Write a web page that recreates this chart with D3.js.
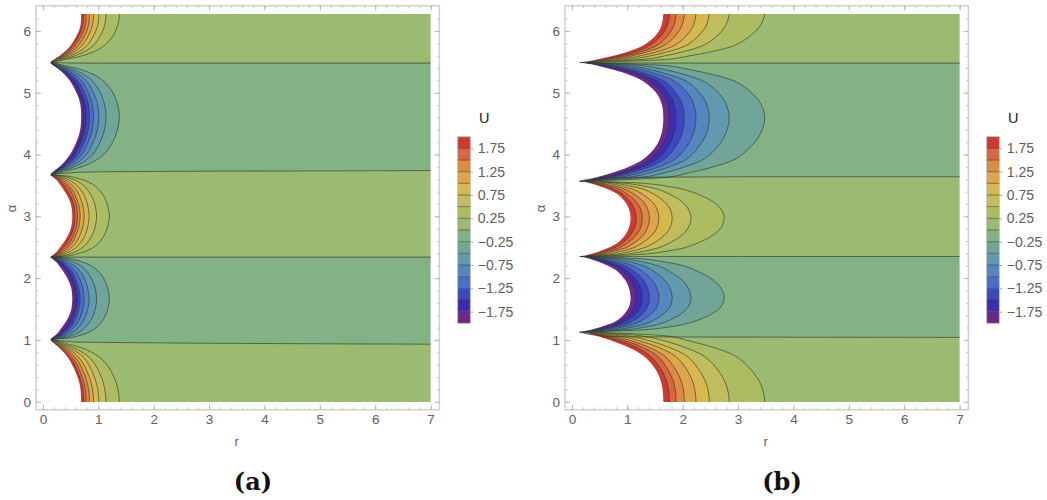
<!DOCTYPE html>
<html>
<head>
<meta charset="utf-8">
<script src="https://cdn.jsdelivr.net/npm/d3@7"></script>
<style>
  body { margin: 0; background: #fff; }
  text { font-family: "Liberation Sans", sans-serif; }
</style>
</head>
<body>
<div id="chart"></div>
<script>
// Contour levels of U (the 2.0 contour is the edge of the plotted domain)
const levels = [0.25, 0.5, 0.75, 1, 1.25, 1.5, 1.75, 2];
const bandEdges = [-2, -1.75, -1.5, -1.25, -1, -0.75, -0.5, -0.25, 0, 0.25, 0.5, 0.75, 1, 1.25, 1.5, 1.75, 2];
const legendTicks = [1.75, 1.25, 0.75, 0.25, -0.25, -0.75, -1.25, -1.75];
const rTicks = [0, 1, 2, 3, 4, 5, 6, 7];
const alphaTicks = [0, 1, 2, 3, 4, 5, 6];
const alphaMax = 6.28;

// Fraction of a lobe's half height (0 = lobe middle, 1 = cusp) at which r was read
const lobeFractions = [0, 0.25, 0.45, 0.65, 0.78, 0.87, 0.93, 0.97, 1];

// r of each contour at those fractions, one row per level
const bigLobeA = [
  [1.38, 1.34, 1.255, 1.10, 0.905, 0.675, 0.43, 0.28, 0.12],
  [1.14, 1.105, 1.03, 0.90, 0.735, 0.545, 0.35, 0.25, 0.12],
  [1.01, 0.98, 0.905, 0.79, 0.64, 0.47, 0.31, 0.23, 0.12],
  [0.914, 0.885, 0.815, 0.70, 0.565, 0.415, 0.285, 0.21, 0.12],
  [0.84, 0.815, 0.745, 0.635, 0.51, 0.375, 0.26, 0.195, 0.12],
  [0.78, 0.757, 0.685, 0.58, 0.465, 0.34, 0.24, 0.18, 0.12],
  [0.733, 0.71, 0.64, 0.535, 0.42, 0.315, 0.225, 0.165, 0.12],
  [0.69, 0.67, 0.60, 0.493, 0.386, 0.29, 0.207, 0.152, 0.12]
];
const smallLobeA = [
  [1.2, 1.17, 1.115, 1.01, 0.89, 0.745, 0.60, 0.455, 0.12],
  [0.97, 0.945, 0.895, 0.80, 0.70, 0.585, 0.47, 0.36, 0.12],
  [0.836, 0.81, 0.765, 0.68, 0.585, 0.485, 0.39, 0.30, 0.12],
  [0.745, 0.722, 0.675, 0.595, 0.505, 0.42, 0.335, 0.26, 0.12],
  [0.673, 0.65, 0.60, 0.53, 0.445, 0.37, 0.295, 0.23, 0.12],
  [0.625, 0.606, 0.555, 0.485, 0.40, 0.33, 0.265, 0.21, 0.12],
  [0.578, 0.56, 0.51, 0.43, 0.355, 0.295, 0.235, 0.185, 0.12],
  [0.53, 0.513, 0.46, 0.37, 0.30, 0.25, 0.195, 0.16, 0.12]
];
const bigLobeB = [
  [3.48, 3.41, 3.24, 2.96, 2.54, 2.12, 1.81, 1.15, 0.12],
  [2.84, 2.78, 2.64, 2.39, 2.03, 1.67, 1.36, 0.88, 0.12],
  [2.48, 2.43, 2.3, 2.08, 1.75, 1.41, 1.11, 0.72, 0.12],
  [2.24, 2.195, 2.08, 1.87, 1.56, 1.23, 0.94, 0.61, 0.12],
  [2.03, 1.99, 1.88, 1.68, 1.39, 1.08, 0.80, 0.52, 0.12],
  [1.88, 1.845, 1.74, 1.55, 1.27, 0.97, 0.69, 0.45, 0.12],
  [1.76, 1.725, 1.62, 1.42, 1.16, 0.87, 0.60, 0.40, 0.12],
  [1.65, 1.62, 1.52, 1.30, 1.02, 0.73, 0.495, 0.325, 0.12]
];
const smallLobeB = [
  [2.75, 2.69, 2.54, 2.27, 2.01, 1.68, 1.375, 0.91, 0.12],
  [2.15, 2.1, 1.98, 1.76, 1.55, 1.28, 1.03, 0.69, 0.12],
  [1.81, 1.77, 1.665, 1.48, 1.29, 1.05, 0.84, 0.57, 0.12],
  [1.57, 1.535, 1.44, 1.27, 1.10, 0.88, 0.70, 0.48, 0.12],
  [1.4, 1.365, 1.285, 1.12, 0.96, 0.75, 0.58, 0.41, 0.12],
  [1.27, 1.24, 1.155, 1.0, 0.85, 0.66, 0.50, 0.36, 0.12],
  [1.16, 1.13, 1.05, 0.91, 0.755, 0.57, 0.43, 0.31, 0.12],
  [1.06, 1.03, 0.955, 0.82, 0.65, 0.49, 0.36, 0.255, 0.12]
];

// Lobes: middle and both edges in alpha, sign of U, which table
const lobesA = [
  { mid: 0, lo: -1.01, hi: 1.01, sign: 1, rows: bigLobeA },
  { mid: 1.66, lo: 1.01, hi: 2.34, sign: -1, rows: smallLobeA },
  { mid: 3.0, lo: 2.34, hi: 3.67, sign: 1, rows: smallLobeA },
  { mid: 4.62, lo: 3.67, hi: 5.49, sign: -1, rows: bigLobeA },
  { mid: 6.25, lo: 5.49, hi: 7.01, sign: 1, rows: bigLobeA }
];
const lobesB = [
  { mid: 0, lo: -1.13, hi: 1.13, sign: 1, rows: bigLobeB },
  { mid: 1.67, lo: 1.13, hi: 2.35, sign: -1, rows: smallLobeB },
  { mid: 2.97, lo: 2.35, hi: 3.57, sign: 1, rows: smallLobeB },
  { mid: 4.6, lo: 3.57, hi: 5.49, sign: -1, rows: bigLobeB },
  { mid: 6.3, lo: 5.49, hi: 7.11, sign: 1, rows: bigLobeB }
];

// U = 0 lines, alpha read at these r
const zeroR = [0.12, 0.3, 0.6, 1, 3, 7];
const zeroLinesA = [
  [1.01, 0.985, 0.965, 0.96, 0.945, 0.93],
  [2.34, 2.34, 2.34, 2.34, 2.34, 2.34],
  [3.67, 3.69, 3.71, 3.72, 3.73, 3.74],
  [5.49, 5.485, 5.48, 5.48, 5.48, 5.48]
];
const zeroLinesB = [
  [1.13, 1.09, 1.06, 1.05, 1.045, 1.04],
  [2.35, 2.35, 2.35, 2.35, 2.35, 2.35],
  [3.57, 3.6, 3.62, 3.63, 3.64, 3.64],
  [5.49, 5.485, 5.48, 5.48, 5.48, 5.48]
];

// Band colours bottom to top
const bandColors = ["#6b2a8c", "#3f2bb0", "#3c48c2", "#4b6ccb", "#5586c0", "#6199af", "#71a598", "#83b284",
  "#9bbb72", "#abbc63", "#bfbd5e", "#d6b84f", "#dfa54d", "#dd8a44", "#d8663f", "#ce3a32"];

const svg = d3.select("#chart").append("svg")
  .attr("width", 1047)
  .attr("height", 500);

const frameColor = "#cfcfcf";
const textColor = "#606060";

function fmt(v) {
  return String(v).replace("-", "\u2212");
}

function drawPanel(p) {
  const x = d3.scaleLinear().domain([0, 7]).range(p.xRange);
  const y = d3.scaleLinear().domain([0, alphaMax]).range([401.7, 13.6]);
  const frame = { left: p.xRange[0] - 6.9, right: p.xRange[1] + 8.8, top: 5.7, bottom: 409.7 };

  // Clip on whole pixels, a soft clip edge lets the stacked fills show through
  svg.append("clipPath").attr("id", p.id)
    .append("rect")
    .attr("x", Math.round(x(0))).attr("y", Math.round(y(alphaMax)))
    .attr("width", Math.round(x(7)) - Math.round(x(0)))
    .attr("height", Math.round(y(0)) - Math.round(y(alphaMax)));

  const plot = svg.append("g").attr("clip-path", `url(#${p.id})`);
  const path = d3.line().x(d => x(d[0])).y(d => y(d[1]));
  const smooth = d3.line().x(d => x(d[0])).y(d => y(d[1])).curve(d3.curveCatmullRom.alpha(0.5));

  // Strips between the zero lines, first band on either side of 0
  const stripEdges = [zeroR.map(() => -0.5)].concat(p.zero, [zeroR.map(() => alphaMax + 0.5)]);
  p.lobes.forEach((lobe, i) => {
    const low = stripEdges[i].map((a, j) => [zeroR[j], a]);
    const high = stripEdges[i + 1].map((a, j) => [zeroR[j], a]).reverse();
    plot.append("path")
      .attr("d", path(low.concat(high)) + "Z")
      .attr("fill", lobe.sign > 0 ? bandColors[8] : bandColors[7]);
  });

  // Nested lobes, outer contour first; the last one is the white hole
  p.lobes.forEach(lobe => {
    levels.forEach((level, k) => {
      const row = lobe.rows[k];
      const lower = lobeFractions.map((f, j) => [row[j], lobe.mid - f * (lobe.mid - lobe.lo)]).reverse();
      const upper = lobeFractions.map((f, j) => [row[j], lobe.mid + f * (lobe.hi - lobe.mid)]).slice(1);
      const d = smooth(lower.concat(upper));
      const last = k === levels.length - 1;
      const bandIndex = lobe.sign > 0 ? 9 + k : 6 - k;
      plot.append("path")
        .attr("d", d + "Z")
        .attr("fill", last ? "#fff" : bandColors[bandIndex]);
      if (!last) {
        plot.append("path")
          .attr("d", d)
          .attr("fill", "none")
          .attr("stroke", "#2f3a2a")
          .attr("stroke-opacity", 0.7)
          .attr("stroke-width", 0.9);
      }
    });
  });

  p.zero.forEach(line => {
    plot.append("path")
      .attr("d", path(line.map((a, j) => [zeroR[j], a])))
      .attr("fill", "none")
      .attr("stroke", "#2f3a2a")
      .attr("stroke-opacity", 0.7)
      .attr("stroke-width", 1);
  });

  // Nothing is plotted left of the cusps (1px extra hides the seam of the strips)
  plot.append("rect")
    .attr("x", x(0)).attr("y", y(alphaMax))
    .attr("width", x(zeroR[0]) - x(0) + 1).attr("height", y(0) - y(alphaMax))
    .attr("fill", "#fff");

  // Frame with ticks on all four sides
  svg.append("rect")
    .attr("x", frame.left).attr("y", frame.top)
    .attr("width", frame.right - frame.left).attr("height", frame.bottom - frame.top)
    .attr("fill", "none").attr("stroke", frameColor).attr("stroke-width", 1.5);

  const rMinor = d3.range(0, 7.01, 0.2);
  const alphaMinor = d3.range(0, 6.21, 0.2);
  const sides = [
    [d3.axisBottom(x), `translate(0,${frame.bottom})`, rTicks, rMinor, true],
    [d3.axisTop(x), `translate(0,${frame.top})`, rTicks, rMinor, false],
    [d3.axisLeft(y), `translate(${frame.left},0)`, alphaTicks, alphaMinor, true],
    [d3.axisRight(y), `translate(${frame.right},0)`, alphaTicks, alphaMinor, false]
  ];
  sides.forEach(([axis, transform, major, minor, labelled]) => {
    const minorG = svg.append("g").attr("transform", transform)
      .call(axis.tickValues(minor).tickSize(-2.5).tickFormat(""));
    minorG.select(".domain").remove();
    minorG.selectAll("line").attr("stroke", "#bdbdbd").attr("stroke-width", 0.8);

    const majorG = svg.append("g").attr("transform", transform)
      .call(axis.tickValues(major).tickSize(-5).tickPadding(5).tickFormat(labelled ? d3.format("d") : ""));
    majorG.select(".domain").remove();
    majorG.selectAll("line").attr("stroke", "#b0b0b0").attr("stroke-width", 0.9);
    majorG.selectAll("text")
      .attr("fill", textColor)
      .style("font-size", "13.5px")
      .style("font-family", '"Liberation Sans", sans-serif');
  });

  svg.append("text")
    .attr("x", p.rLabelX).attr("y", 446)
    .attr("text-anchor", "middle")
    .attr("fill", textColor)
    .style("font-size", "13px")
    .text("r");
  svg.append("text")
    .attr("transform", `translate(${frame.left - 20},208.5) rotate(-90)`)
    .attr("text-anchor", "middle")
    .attr("fill", textColor)
    .style("font-size", "13px")
    .text("\u03b1");

  // Legend
  const legendY = d3.scaleLinear().domain([-2, 2]).range([323.3, 136.7]);
  const legend = svg.append("g").attr("transform", `translate(${p.legendX},0)`);
  bandColors.forEach((c, i) => {
    legend.append("rect")
      .attr("x", 0).attr("width", 12.6)
      .attr("y", legendY(bandEdges[i + 1]))
      .attr("height", legendY(bandEdges[i]) - legendY(bandEdges[i + 1]))
      .attr("fill", c);
  });
  legend.selectAll(".sep")
    .data(bandEdges.slice(1, -1))
    .enter().append("line")
    .attr("class", "sep")
    .attr("x1", 0).attr("x2", 12.6)
    .attr("y1", d => legendY(d)).attr("y2", d => legendY(d))
    .attr("stroke", "#2f3a2a").attr("stroke-opacity", 0.7).attr("stroke-width", 0.8);
  legend.append("rect")
    .attr("width", 12.6).attr("y", legendY(2)).attr("height", legendY(-2) - legendY(2))
    .attr("fill", "none").attr("stroke", "#bbb").attr("stroke-width", 0.8);
  const legendAxis = legend.append("g")
    .attr("transform", "translate(12.6,0)")
    .call(d3.axisRight(legendY).tickValues(legendTicks).tickSize(3).tickPadding(4.5).tickFormat(fmt));
  legendAxis.select(".domain").remove();
  legendAxis.selectAll("line").attr("stroke", "#aaa");
  legendAxis.selectAll("text")
    .attr("fill", textColor)
    .style("font-size", "14px")
    .style("font-family", '"Liberation Sans", sans-serif');
  legend.append("text")
    .attr("x", 26.5).attr("y", 123)
    .attr("text-anchor", "middle")
    .attr("fill", "#222")
    .style("font-size", "14.5px")
    .text("U");

  svg.append("text")
    .attr("x", p.captionX).attr("y", 490)
    .attr("text-anchor", "middle")
    .attr("fill", "#111")
    .style("font-family", '"DejaVu Serif", serif')
    .style("font-weight", "bold")
    .style("font-size", "24px")
    .text(p.caption);
}

drawPanel({ id: "clipA", xRange: [42.9, 430.6], lobes: lobesA, zero: zeroLinesA, legendX: 457.7, rLabelX: 236.7, captionX: 253, caption: "(a)" });
drawPanel({ id: "clipB", xRange: [571.9, 959.6], lobes: lobesB, zero: zeroLinesB, legendX: 986.7, rLabelX: 765.7, captionX: 782, caption: "(b)" });
</script>
</body>
</html>
